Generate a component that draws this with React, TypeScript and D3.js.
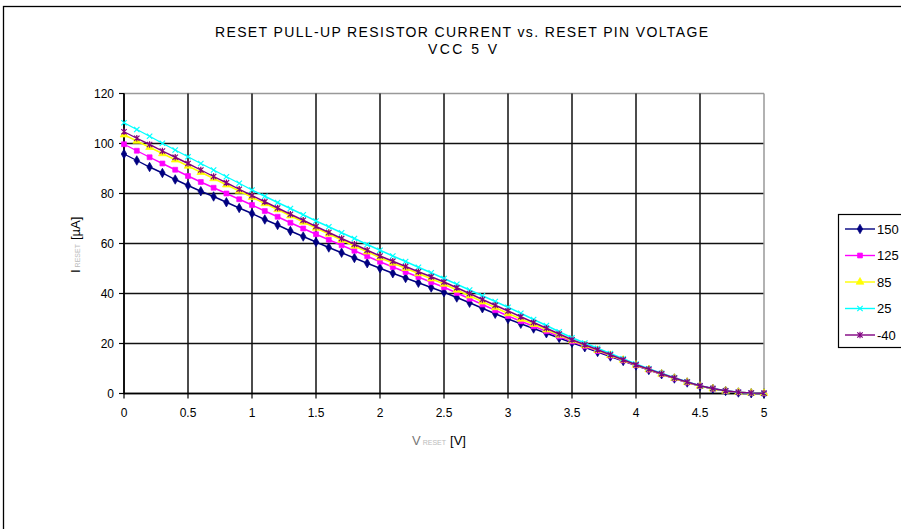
import React from "react";
import * as d3 from "d3";

const voltages: number[] = d3.range(0, 51).map((i) => +(i * 0.1).toFixed(1));

const seriesNames = ["150", "125", "85", "25", "-40"];
const seriesColors = ["#000080", "#FF00FF", "#FFFF00", "#00FFFF", "#800080"];
const seriesMarkers = ["diamond", "square", "triangle", "x", "star"];

const s150 = [95.8, 93.2, 90.6, 88.2, 85.6, 83.2, 80.9, 78.8, 76.5, 74.2, 72.0, 69.6, 67.4, 65.0, 62.8, 60.6, 58.4, 56.3, 54.2, 52.1, 50.1, 48.1, 46.2, 44.3, 42.4, 40.5, 38.4, 36.3, 34.1, 31.9, 29.8, 27.9, 26.0, 24.1, 22.2, 20.3, 18.5, 16.6, 14.8, 13.0, 11.2, 9.4, 7.7, 6.0, 4.4, 3.0, 1.9, 1.0, 0.4, 0.1, 0.0];
const s125 = [99.7, 97.1, 94.5, 92.0, 89.5, 87.0, 84.6, 82.3, 80.0, 77.7, 75.4, 73.0, 70.7, 68.3, 66.0, 63.7, 61.5, 59.3, 57.1, 54.9, 52.7, 50.6, 48.6, 46.6, 44.5, 42.5, 40.2, 37.9, 35.6, 33.3, 31.0, 28.9, 26.9, 24.9, 22.8, 20.8, 18.9, 17.0, 15.1, 13.2, 11.3, 9.5, 7.7, 6.0, 4.4, 3.0, 1.9, 1.0, 0.5, 0.2, 0.1];
const s85 = [103.5, 101.0, 98.5, 96.0, 93.5, 91.0, 88.5, 86.0, 83.5, 81.0, 78.5, 76.0, 73.6, 71.1, 68.6, 66.2, 63.8, 61.4, 59.0, 56.7, 54.3, 52.2, 50.1, 48.0, 45.9, 43.8, 41.4, 39.1, 36.7, 34.4, 32.0, 29.8, 27.7, 25.5, 23.4, 21.2, 19.2, 17.3, 15.3, 13.4, 11.4, 9.6, 7.8, 6.1, 4.5, 3.0, 1.9, 1.0, 0.5, 0.2, 0.1];
const s25 = [108.3, 105.6, 102.9, 100.1, 97.4, 94.7, 92.0, 89.4, 86.7, 84.1, 81.4, 78.9, 76.4, 74.0, 71.5, 69.0, 66.7, 64.3, 62.0, 59.6, 57.3, 55.0, 52.8, 50.5, 48.3, 46.0, 43.7, 41.4, 39.1, 36.8, 34.5, 32.1, 29.6, 27.2, 24.7, 22.3, 20.2, 18.1, 16.0, 13.9, 11.8, 9.9, 8.1, 6.3, 4.7, 3.1, 2.0, 1.1, 0.5, 0.2, 0.1];
const sM40 = [104.7, 102.1, 99.6, 97.0, 94.5, 92.0, 89.4, 86.8, 84.3, 81.7, 79.2, 76.7, 74.2, 71.7, 69.3, 66.8, 64.4, 62.0, 59.7, 57.3, 55.0, 52.9, 50.8, 48.7, 46.7, 44.6, 42.3, 40.0, 37.6, 35.3, 33.0, 30.7, 28.4, 26.1, 23.8, 21.5, 19.5, 17.5, 15.5, 13.5, 11.5, 9.7, 7.9, 6.2, 4.6, 3.1, 2.0, 1.1, 0.5, 0.2, 0.1];

const seriesValues = [s150, s125, s85, s25, sM40];

const xTicks = [0, 0.5, 1, 1.5, 2, 2.5, 3, 3.5, 4, 4.5, 5];
const xTickLabels = ["0", "0.5", "1", "1.5", "2", "2.5", "3", "3.5", "4", "4.5", "5"];
const yTicks = [0, 20, 40, 60, 80, 100, 120];

const W = 901;
const H = 529;
const plot = { left: 124, right: 764, top: 93.5, bottom: 393.5 };
const FONT = "'Liberation Sans', Arial, sans-serif";

function Marker({ kind, x, y, color }: { kind: string; x: number; y: number; color: string }) {
  const t = `translate(${x},${y})`;
  if (kind === "diamond") {
    return <path transform={t} d={d3.symbol().type(d3.symbolDiamond).size(26)()!} fill={color} stroke={color} strokeWidth={0.7} />;
  }
  if (kind === "square") {
    return <path transform={t} d={d3.symbol().type(d3.symbolSquare).size(24)()!} fill={color} stroke={color} strokeWidth={0.7} />;
  }
  if (kind === "triangle") {
    return <path transform={t} d={d3.symbol().type(d3.symbolTriangle).size(26)()!} fill={color} stroke={color} strokeWidth={0.7} />;
  }
  if (kind === "x") {
    const r = 2.7;
    return (
      <path transform={t} d={`M${-r},${-r}L${r},${r}M${-r},${r}L${r},${-r}`} stroke={color} strokeWidth={1.2} fill="none" />
    );
  }
  const r = 2.7;
  return (
    <path transform={t} d={`M${-r},${-r}L${r},${r}M${-r},${r}L${r},${-r}M0,${-r - 0.5}L0,${r + 0.5}`} stroke={color} strokeWidth={1.2} fill="none" />
  );
}

export default function App() {
  const x = d3.scaleLinear().domain([0, 5]).range([plot.left, plot.right]);
  const y = d3.scaleLinear().domain([0, 120]).range([plot.bottom, plot.top]);
  const line = d3
    .line<number>()
    .x((_, i) => x(voltages[i]))
    .y((d) => y(d));

  const legendY0 = 229;
  const legendStep = 26.5;

  return (
    <svg
      width={W}
      height={H}
      style={{ position: "absolute", left: 0, top: 0, background: "#fff" }}
      fontFamily={FONT}
    >
      <rect x={0} y={0} width={W} height={H} fill="#fff" />
      {/* chart border */}
      <rect x={3.5} y={6.5} width={1100} height={1100} fill="none" stroke="#000" strokeWidth={1.3} />

      {/* title */}
      <text x={461.5} y={37} textAnchor="middle" fontSize={14} textLength={493} lengthAdjust="spacing" fill="#000">
        RESET PULL-UP RESISTOR CURRENT vs. RESET PIN VOLTAGE
      </text>
      <text x={462.5} y={54} textAnchor="middle" fontSize={14} textLength={69} lengthAdjust="spacing" fill="#000">
        VCC 5 V
      </text>

      {/* grid */}
      {yTicks.map((v) => (
        <line key={"gy" + v} x1={plot.left} x2={plot.right} y1={y(v)} y2={y(v)} stroke={v === 120 ? "#999" : "#111"} strokeWidth={1.5} />
      ))}
      {xTicks.map((v) => (
        <line key={"gx" + v} x1={x(v)} x2={x(v)} y1={plot.top} y2={plot.bottom} stroke={v === 5 ? "#999" : "#111"} strokeWidth={1.5} />
      ))}
      {/* axes */}
      <line x1={plot.left} x2={plot.left} y1={plot.top} y2={plot.bottom + 0.75} stroke="#000" strokeWidth={1.5} />
      <line x1={plot.left} x2={plot.right} y1={plot.bottom} y2={plot.bottom} stroke="#000" strokeWidth={1.5} />

      {/* y ticks */}
      {yTicks.map((v) => (
        <g key={"yt" + v}>
          <line x1={plot.left - 5} x2={plot.left} y1={y(v)} y2={y(v)} stroke="#000" strokeWidth={1.2} />
          <text x={plot.left - 10} y={y(v) + 4.5} textAnchor="end" fontSize={12} fill="#000">
            {v}
          </text>
        </g>
      ))}
      {/* x ticks */}
      {xTicks.map((v, i) => (
        <g key={"xt" + v}>
          <line x1={x(v)} x2={x(v)} y1={plot.bottom} y2={plot.bottom + 5} stroke="#000" strokeWidth={1.2} />
          <text x={x(v)} y={plot.bottom + 23} textAnchor="middle" fontSize={12} fill="#000">
            {xTickLabels[i]}
          </text>
        </g>
      ))}

      {/* series */}
      {seriesValues.map((vals, si) => (
        <g key={"s" + si}>
          <path d={line(vals)!} fill="none" stroke={seriesColors[si]} strokeWidth={1.4} />
          {vals.map((v, i) => (
            <Marker key={i} kind={seriesMarkers[si]} x={x(voltages[i])} y={y(v)} color={seriesColors[si]} />
          ))}
        </g>
      ))}

      {/* axis titles */}
      <text x={412} y={445} fontSize={13} fill="#000">
        <tspan fill="#777">V</tspan>
        <tspan fontSize={7} fill="#bbb" dx={2}>RESET</tspan>
        <tspan dx={4} fill="#000">[V]</tspan>
      </text>
      <text transform={`translate(80,273) rotate(-90)`} fontSize={13} fill="#000">
        <tspan fill="#000">I</tspan>
        <tspan fontSize={7} fill="#bbb" dx={2}>RESET</tspan>
        <tspan dx={4} fill="#000">[µA]</tspan>
      </text>

      {/* legend */}
      <rect x={838.5} y={214.5} width={200} height={133} fill="#fff" stroke="#000" strokeWidth={1.2} />
      {seriesNames.map((n, i) => {
        const ly = legendY0 + i * legendStep;
        return (
          <g key={"lg" + n}>
            <line x1={845} x2={875} y1={ly} y2={ly} stroke={seriesColors[i]} strokeWidth={1.4} />
            <Marker kind={seriesMarkers[i]} x={860} y={ly} color={seriesColors[i]} />
            <text x={877} y={ly + 4.5} fontSize={13} fill="#000">
              {n}
            </text>
          </g>
        );
      })}
    </svg>
  );
}
